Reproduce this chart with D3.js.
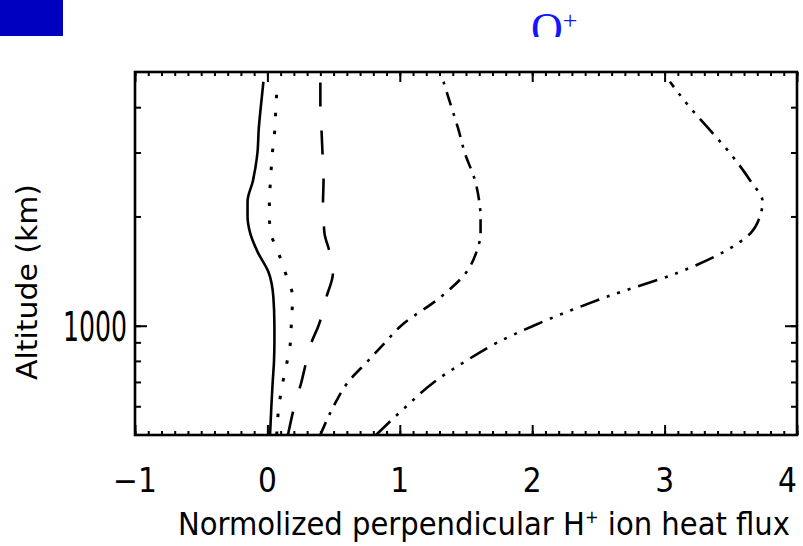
<!DOCTYPE html>
<html>
<head>
<meta charset="utf-8">
<script src="https://cdn.jsdelivr.net/npm/d3@7"></script>
<style>
  body { margin: 0; background: #fff; }
  text { fill: #000; }
</style>
</head>
<body>
<div id="chart"></div>
<script>
const width = 803;
const height = 546;

// altitude grid (km) and the five heat flux profiles
const altitudes = [500, 600, 700, 800, 900, 1000, 1200, 1400, 1600, 1800, 2000, 2200, 2500, 3000, 3500, 4000, 4700];
const solid      = [0.02, 0.03, 0.04, 0.05, 0.053, 0.053, 0.045, 0.01, -0.075, -0.13, -0.15, -0.15, -0.11, -0.075, -0.065, -0.05, -0.03];
const dotted     = [0.07, 0.087, 0.117, 0.15, 0.174, 0.18, 0.19, 0.136, 0.08, 0.026, 0.015, 0.015, 0.023, 0.038, 0.057, 0.064, 0.076];
const dashed     = [0.155, 0.204, 0.257, 0.295, 0.333, 0.386, 0.446, 0.495, 0.469, 0.431, 0.424, 0.42, 0.424, 0.416, 0.408, 0.40, 0.40];
const dashDot    = [0.40, 0.50, 0.61, 0.76, 0.89, 1.01, 1.31, 1.50, 1.58, 1.61, 1.61, 1.60, 1.57, 1.49, 1.44, 1.39, 1.33];
const dashDotDot = [0.82, 1.05, 1.26, 1.50, 1.74, 2.01, 2.56, 3.10, 3.45, 3.65, 3.72, 3.74, 3.65, 3.49, 3.33, 3.19, 3.04];

const xTicks = [-1, 0, 1, 2, 3, 4];
const yMajor = [1000];
const yTicks = [600, 700, 800, 900, 1000, 2000, 3000, 4000];

const series = [
  {values: solid, dash: null, w: 2.6},
  {values: dotted, dash: "3.5,14.5", w: 3},
  {values: dashed, dash: "24,24", w: 2.6},
  {values: dashDot, dash: "14,8,3,8", w: 2.6},
  {values: dashDotDot, dash: "20,8,3,8,3,8,3,8", w: 2.6}
];

const margin = {left: 135, right: 6, top: 72, bottom: 111};
const x = d3.scaleLinear().domain([-1, 4]).range([margin.left, width - margin.right]);
const y = d3.scaleLog().domain([500, 5000]).range([height - margin.bottom, margin.top]);

const svg = d3.select("#chart")
  .append("svg")
  .attr("width", width)
  .attr("height", height);

// blue header block and clipped O+ title
svg.append("rect")
  .attr("x", 0).attr("y", 0)
  .attr("width", 63).attr("height", 36)
  .attr("fill", "#0000c0");

svg.append("clipPath").attr("id", "topclip")
  .append("rect").attr("x", 0).attr("y", 0).attr("width", width).attr("height", 37);

const title = svg.append("text")
  .attr("clip-path", "url(#topclip)")
  .attr("x", 531).attr("y", 43)
  .style("font-family", "'Liberation Serif', 'DejaVu Serif', serif")
  .style("font-size", "44px")
  .style("fill", "#1414ff");
title.append("tspan").text("O");
title.append("tspan")
  .attr("dy", -14)
  .style("font-size", "26px")
  .text("+");

const plot = svg.append("g");

// curves
const line = d3.line()
  .x(d => x(d[0]))
  .y(d => y(d[1]))
  .curve(d3.curveMonotoneY);

plot.selectAll(".profile")
  .data(series)
  .enter()
  .append("path")
    .attr("class", "profile")
    .attr("d", s => line(s.values.map((v, i) => [v, altitudes[i]])))
    .attr("fill", "none")
    .attr("stroke", "#000")
    .attr("stroke-width", s => s.w)
    .attr("stroke-dasharray", s => s.dash);

// axes: ticks inward on all four sides
const xMinor = d3.range(-1, 4.001, 0.1).map(v => +v.toFixed(1));
const bottomAxis = d3.axisBottom(x).tickValues(xMinor).tickSize(-4).tickFormat("");
const topAxis = d3.axisTop(x).tickValues(xMinor).tickSize(-4).tickFormat("");
const bottomMajor = d3.axisBottom(x).tickValues(xTicks).tickSize(-10).tickFormat("");
const topMajor = d3.axisTop(x).tickValues(xTicks).tickSize(-10).tickFormat("");

plot.append("g").attr("transform", `translate(0,${y(500)})`).call(bottomAxis);
plot.append("g").attr("transform", `translate(0,${y(5000)})`).call(topAxis);
plot.append("g").attr("transform", `translate(0,${y(500)})`).call(bottomMajor);
plot.append("g").attr("transform", `translate(0,${y(5000)})`).call(topMajor);

const leftAxis = d3.axisLeft(y).tickValues(yTicks).tickSize(-6).tickFormat("");
const rightAxis = d3.axisRight(y).tickValues(yTicks).tickSize(-6).tickFormat("");
const leftMajor = d3.axisLeft(y).tickValues(yMajor).tickSize(-12).tickFormat("");
const rightMajor = d3.axisRight(y).tickValues(yMajor).tickSize(-12).tickFormat("");
plot.append("g").attr("transform", `translate(${x(-1)},0)`).call(leftAxis);
plot.append("g").attr("transform", `translate(${x(4)},0)`).call(rightAxis);
plot.append("g").attr("transform", `translate(${x(-1)},0)`).call(leftMajor);
plot.append("g").attr("transform", `translate(${x(4)},0)`).call(rightMajor);

plot.selectAll(".domain").remove();
plot.selectAll(".tick line").attr("stroke", "#000").attr("stroke-width", 2);

// frame
plot.append("rect")
  .attr("x", x(-1)).attr("y", y(5000))
  .attr("width", x(4) - x(-1))
  .attr("height", y(500) - y(5000))
  .attr("fill", "none")
  .attr("stroke", "#000")
  .attr("stroke-width", 2.6);

const labelFont = "'Liberation Sans Narrow', 'DejaVu Sans Condensed', 'Liberation Sans', sans-serif";

// x tick labels (last one pulled in so it stays on the page)
svg.append("g")
  .selectAll("text")
  .data(xTicks)
  .enter()
  .append("text")
    .attr("x", d => Math.min(x(d), width - 1))
    .attr("y", 492)
    .attr("text-anchor", d => x(d) + 8 > width ? "end" : "middle")
    .style("font-family", labelFont)
    .style("font-size", "33px")
    .text(d => d < 0 ? "\u2212" + Math.abs(d) : d);

// y tick label
svg.append("g")
  .selectAll("text")
  .data(yMajor)
  .enter()
  .append("text")
    .attr("x", 127)
    .attr("y", d => y(d) + 15)
    .attr("text-anchor", "end")
    .attr("textLength", 64)
    .attr("lengthAdjust", "spacingAndGlyphs")
    .style("font-family", labelFont)
    .style("font-size", "40px")
    .text(d => d);

// axis titles
const xLabel = svg.append("text")
  .attr("x", 178).attr("y", 535)
  .attr("textLength", 612)
  .attr("lengthAdjust", "spacingAndGlyphs")
  .style("font-family", labelFont)
  .style("font-size", "32px");
xLabel.append("tspan").text("Normolized perpendicular H");
xLabel.append("tspan").attr("dy", -12).style("font-size", "18px").text("+");
xLabel.append("tspan").attr("dy", 12).text(" ion heat flux");

svg.append("text")
  .attr("transform", "translate(37,380) rotate(-90)")
  .attr("textLength", 196)
  .attr("lengthAdjust", "spacingAndGlyphs")
  .style("font-family", labelFont)
  .style("font-size", "28px")
  .text("Altitude (km)");
</script>
</body>
</html>
